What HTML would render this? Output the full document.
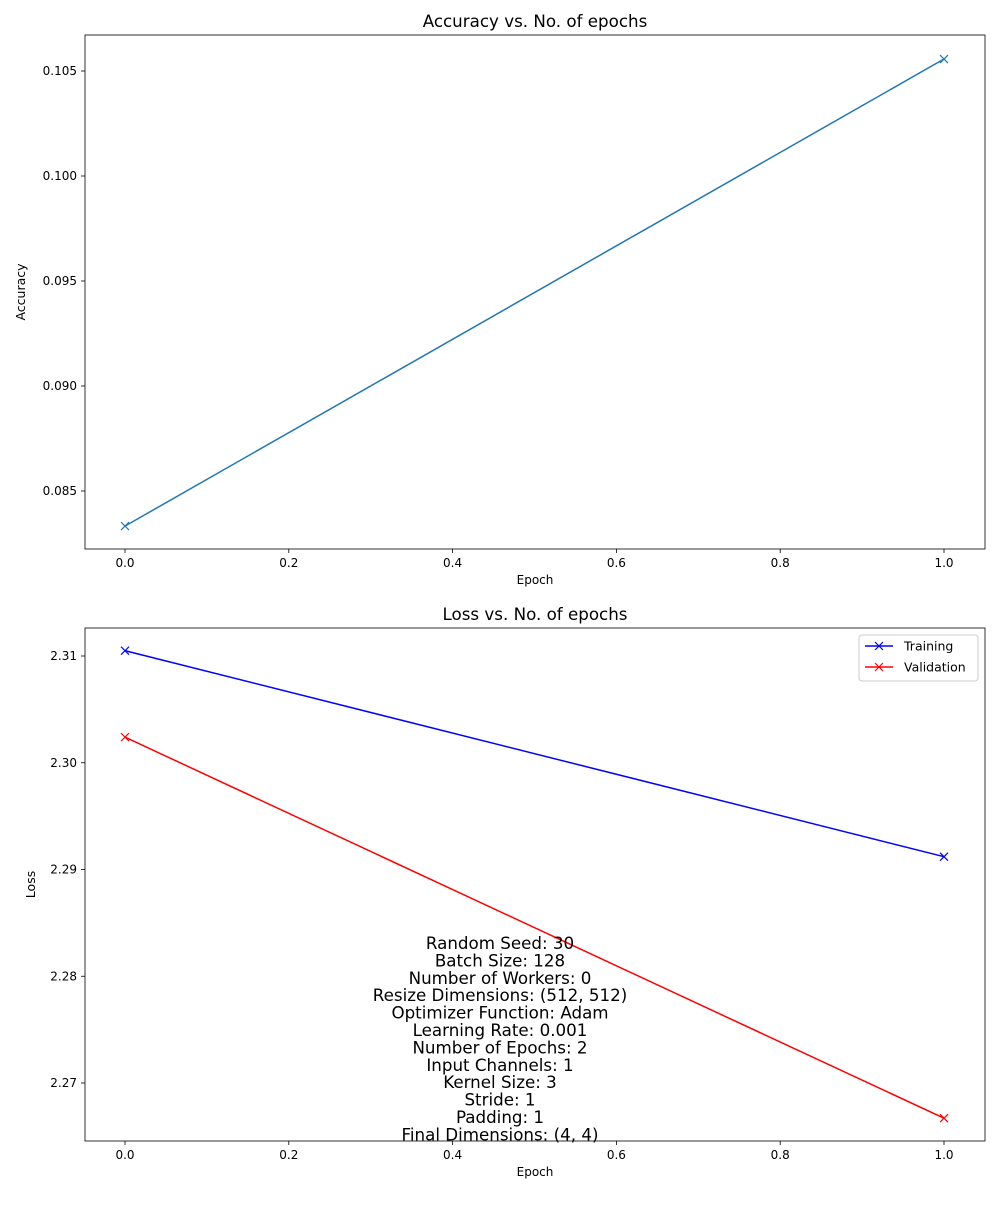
<!DOCTYPE html>
<html><head><meta charset="utf-8">
<style>
body{margin:0;background:#fff;}
svg text{font-family:"DejaVu Sans","Liberation Sans",sans-serif;}
</style></head>
<body>
<svg id="fig" width="1000" height="1200" xmlns="http://www.w3.org/2000/svg"></svg>
<script>
const epochs = [0, 1];
const accuracy = [0.08333, 0.10557];
const trainLoss = [2.3105, 2.2912];
const valLoss = [2.3024, 2.2667];
const xTicks = [0.0, 0.2, 0.4, 0.6, 0.8, 1.0];
const accTicks = [0.085, 0.090, 0.095, 0.100, 0.105];
const lossTicks = [2.27, 2.28, 2.29, 2.30, 2.31];
const infoLines = ["Random Seed: 30","Batch Size: 128","Number of Workers: 0","Resize Dimensions: (512, 512)","Optimizer Function: Adam","Learning Rate: 0.001","Number of Epochs: 2","Input Channels: 1","Kernel Size: 3","Stride: 1","Padding: 1","Final Dimensions: (4, 4)"];

const NS="http://www.w3.org/2000/svg";
const svg=document.getElementById('fig');
function mk(tag,attrs,parent){const e=document.createElementNS(NS,tag);for(const k in attrs)e.setAttribute(k,attrs[k]);(parent||svg).appendChild(e);return e;}
function txt(s,x,y,size,anchor,parent,extra){const t=mk('text',Object.assign({x:x,y:y,'font-size':size,'text-anchor':anchor||'middle',fill:'#000'},extra||{}),parent);t.textContent=s;return t;}
const xs=v=>125+v*819;

function axes(name,top,bottom,yfun,yticks,fmt,title,ylabel){
  const g=mk('g',{});
  
  
  const frame=mk('rect',{x:85,y:top,width:900,height:bottom-top,fill:'none',stroke:'#000','stroke-width':0.8},g);
  
  
  xTicks.forEach(v=>{const x=xs(v);mk('line',{x1:x,x2:x,y1:bottom,y2:bottom+4,stroke:'#000','stroke-width':0.8},g);
    const t=txt(v.toFixed(1),x,bottom+18,12,'middle',g);
    
    });
  yticks.forEach(v=>{const y=yfun(v);mk('line',{x1:81,x2:85,y1:y,y2:y,stroke:'#000','stroke-width':0.8},g);
    const t=txt(fmt(v),77,y+4,12,'end',g);
    
    });
  const tt=txt(title,535,top-8,16.7,'middle',g);
  
  
  const xl=txt('Epoch',535,bottom+35,12,'middle',g);
  
  
  const yl=txt(ylabel,0,0,12.5,'middle',g,{transform:`translate(${ylabel==='Loss'?35:25},${(top+bottom)/2}) rotate(-90)`});
  
  
  return g;
}
function series(g,name,vals,yfun,color){
  const pts=epochs.map((e,i)=>[xs(e),yfun(vals[i])]);
  const l=mk('polyline',{points:pts.map(p=>p.join(',')).join(' '),fill:'none',stroke:color,'stroke-width':1.5},g);
  
  
  pts.forEach(p=>{const m=mk('path',{d:`M${p[0]-4},${p[1]-4}L${p[0]+4},${p[1]+4}M${p[0]-4},${p[1]+4}L${p[0]+4},${p[1]-4}`,stroke:color,'stroke-width':1.2},g);
    
    });
}
const yA=v=>71+(0.105-v)/0.005*105;
const g1=axes('accuracy-chart',35,549,yA,accTicks,v=>v.toFixed(3),'Accuracy vs. No. of epochs','Accuracy');
series(g1,'accuracy',accuracy,yA,'#1f77b4');
const yL=v=>656+(2.31-v)/0.01*106.75;
const g2=axes('loss-chart',628,1141,yL,lossTicks,v=>v.toFixed(2),'Loss vs. No. of epochs','Loss');
series(g2,'training',trainLoss,yL,'#0000ff');
series(g2,'validation',valLoss,yL,'#ff0000');
const lg=mk('g',{},g2);


mk('rect',{x:859,y:635,width:119,height:46,rx:3,fill:'#fff',stroke:'#ccc','stroke-width':1},lg);
[['Training','#0000ff',646],['Validation','#ff0000',667]].forEach(([n,c,y])=>{
  const e=mk('g',{},lg);
  
  
  mk('line',{x1:865,x2:893,y1:y,y2:y,stroke:c,'stroke-width':1.5},e);
  mk('path',{d:`M875,${y-4}L883,${y+4}M875,${y+4}L883,${y-4}`,stroke:c,'stroke-width':1.2},e);
  txt(n,904,y+4.5,12.5,'start',e);
});
const ig=mk('g',{});


infoLines.forEach((s,i)=>txt(s,500,949+i*17.4,16.7,'middle',ig));
</script>
</body></html>
